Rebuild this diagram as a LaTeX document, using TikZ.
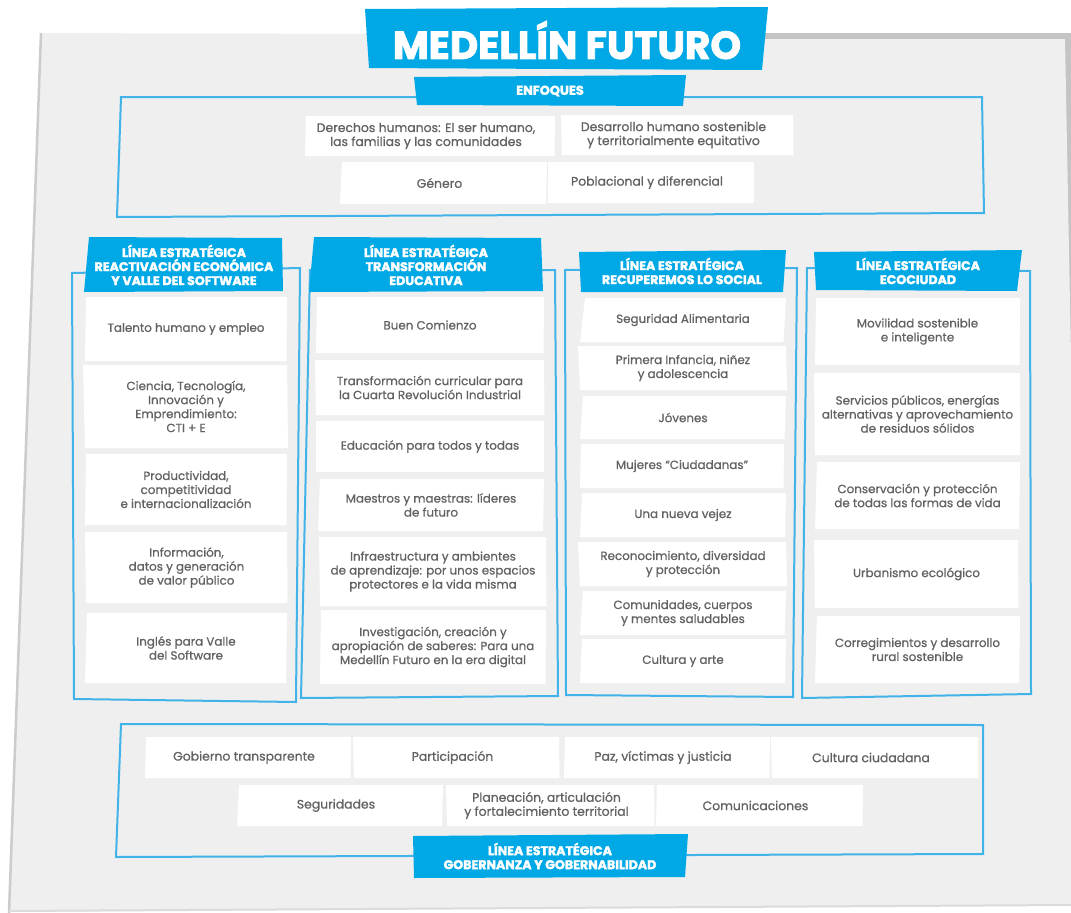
\documentclass[tikz,border=0pt]{standalone}
\usepackage{fontspec}
\setmainfont{Poppins}
\newfontfamily\cardfont[FakeBold=0.8]{Poppins}
\newfontfamily\hdrfont[BoldFeatures={FakeBold=2.2}]{Poppins}
\definecolor{sheet}{HTML}{EFEFEF}
\definecolor{shadowg}{HTML}{C4C4C4}
\definecolor{edgeg}{HTML}{CCCCCC}
\definecolor{hblue}{HTML}{00A8E5}
\definecolor{fblue}{HTML}{42B3E8}
\definecolor{tgrey}{HTML}{626262}
\tikzset{
  cardtext/.style={align=center, text=tgrey, font=\cardfont\fontsize{11.9}{14}\selectfont, inner sep=0pt},
  widetext/.style={cardtext, font=\cardfont\fontsize{12.4}{14}\selectfont},
  hdrtext/.style={align=center, text=white, font=\hdrfont\bfseries\fontsize{12.6}{14}\selectfont, inner sep=0pt},
  framebox/.style={draw=fblue, line width=2pt},
  hdrfill/.style={fill=hblue},
  cardfill/.style={fill=white},
}
% \card{name}{x1}{y1}{x2}{y2}{skew}{text}
\newcommand{\card}[7]{%
  \fill[cardfill] ({#2+#6},#3) -- (#4,#3) -- ({#4-#6/2},#5) -- (#2,#5) -- cycle;
  \node[cardtext] (#1) at ({(#2+#4)/2},{(#3+#5)/2}) {#7};
}
\newcommand{\wcard}[7]{%
  \fill[cardfill] ({#2+#6},#3) -- (#4,#3) -- ({#4-#6/2},#5) -- (#2,#5) -- cycle;
  \node[widetext] (#1) at ({(#2+#4)/2-4},{(#3+#5)/2}) {#7};
}
\begin{document}
\begin{tikzpicture}[x=1pt,y=-1pt]
\useasboundingbox (0,0) rectangle (1071,913);
% sheet and shadows
\fill[shadowg] (365,33) -- (1071,33) -- (1071,360) -- cycle;
\fill[sheet] (41,33) -- (365,34) -- (765,39) -- (1065,39) -- (1071,357) -- (1071,905) -- (9,912) -- (8,913) -- cycle;
\draw[edgeg, line width=2.5pt] (41,33) -- (9,913);
\draw[edgeg!70, line width=2pt] (9,911) -- (1071,905);

% title
\fill[hblue] (365,9) -- (768,7) -- (762,70) -- (369,68) -- cycle;
\node[text=white, font=\hdrfont\bfseries\fontsize{39}{42}\selectfont, inner sep=0pt] (title) at (567,40) {MEDELLÍN FUTURO};

% enfoques frame
\draw[framebox] (121,97) -- (982,97) -- (984,213) -- (117,217) -- cycle;
\fill[hdrfill] (414,77) -- (686,75) -- (683,106) -- (417,105) -- cycle;
\node[hdrtext, font=\hdrfont\bfseries\fontsize{12.8}{13}\selectfont] (hE) at (550,91) {ENFOQUES};
\wcard{e1}{305}{116}{555}{156}{1}{Derechos humanos: El ser humano,\\las familias y las comunidades}
\wcard{e2}{562}{115}{793}{155}{-1}{Desarrollo humano sostenible\\y territorialmente equitativo}
\wcard{e3}{340}{162}{547}{204}{2}{Género}
\wcard{e4}{548}{162}{754}{203}{0}{Poblacional y diferencial}

% column 1
\draw[framebox] (72,273) -- (300,268) -- (296,702) -- (74,699) -- cycle;
\card{c1a}{85}{297}{287}{361}{1}{Talento humano y empleo}
\card{c1b}{85}{365}{287}{448}{-2}{Ciencia, Tecnología,\\Innovación y\\Emprendimiento:\\CTI + E}
\card{c1c}{85}{454}{287}{525}{1}{Productividad,\\competitividad\\e internacionalización}
\card{c1d}{86}{532}{287}{603}{-1}{Información,\\datos y generación\\de valor público}
\card{c1e}{85}{613}{287}{683}{2}{Inglés para Valle\\del Software}
\fill[hdrfill] (89,237) -- (282,238) -- (283,291) -- (84,292) -- cycle;
\node[hdrtext] (h1) at (184,265) {LÍNEA ESTRATÉGICA\\REACTIVACIÓN ECONÓMICA\\Y VALLE DEL SOFTWARE};

% column 2
\draw[framebox] (310,270) -- (555,270) -- (558,696) -- (301,698) -- cycle;
\card{c2a}{316}{297}{544}{353}{1}{Buen Comienzo}
\card{c2b}{316}{360}{544}{415}{-1}{Transformación curricular para\\la Cuarta Revolución Industrial}
\card{c2c}{316}{421}{544}{472}{0}{Educación para todos y todas}
\card{c2d}{318}{479}{544}{531}{2}{Maestros y maestras: líderes\\de futuro}
\card{c2e}{320}{537}{546}{606}{-1}{Infraestructura y ambientes\\de aprendizaje: por unos espacios\\protectores e la vida misma}
\card{c2f}{320}{610}{546}{684}{1}{Investigación, creación y\\apropiación de saberes: Para una\\Medellín Futuro en la era digital}
\fill[hdrfill] (314,237) -- (541,238) -- (543,291) -- (309,292) -- cycle;
\node[hdrtext] (h2) at (426,265) {LÍNEA ESTRATÉGICA\\TRANSFORMACIÓN\\EDUCATIVA};

% column 3
\draw[framebox] (565,270) -- (797,268) -- (793,697) -- (566,695) -- cycle;
\card{c3a}{580}{298}{786}{342}{5}{Seguridad Alimentaria}
\card{c3b}{580}{346}{786}{390}{-2}{Primera Infancia, niñez\\y adolescencia}
\card{c3c}{580}{396}{786}{439}{3}{Jóvenes}
\card{c3d}{580}{444}{784}{488}{1}{Mujeres “Ciudadanas”}
\card{c3e}{580}{493}{786}{537}{2}{Una nueva vejez}
\card{c3f}{580}{542}{786}{586}{-2}{Reconocimiento, diversidad\\y protección}
\card{c3g}{580}{591}{786}{635}{3}{Comunidades, cuerpos\\y mentes saludables}
\card{c3h}{580}{639}{786}{683}{2}{Cultura y arte}
\fill[hdrfill] (579,252) -- (786,250) -- (783,292) -- (581,292) -- cycle;
\node[hdrtext] (h3) at (682,271) {LÍNEA ESTRATÉGICA\\RECUPEREMOS LO SOCIAL};

% column 4
\draw[framebox] (807,268) -- (1030,271) -- (1031,694) -- (802,698) -- cycle;
\card{c4a}{815}{298}{1020}{365}{1}{Movilidad sostenible\\e inteligente}
\card{c4b}{815}{373}{1020}{455}{-1}{Servicios públicos, energías\\alternativas y aprovechamiento\\de residuos sólidos}
\card{c4c}{815}{462}{1020}{529}{2}{Conservación y protección\\de todas las formas de vida}
\card{c4d}{815}{540}{1018}{608}{-1}{Urbanismo ecológico}
\card{c4e}{815}{616}{1020}{683}{2}{Corregimientos y desarrollo\\rural sostenible}
\fill[hdrfill] (814,252) -- (1022,250) -- (1017,291) -- (816,290) -- cycle;
\node[hdrtext] (h4) at (918,271) {LÍNEA ESTRATÉGICA\\ECOCIUDAD};

% gobernanza
\draw[framebox] (121,724) -- (983,725) -- (983,854) -- (116,857) -- cycle;
\wcard{g1}{145}{737}{351}{778}{1}{Gobierno transparente}
\wcard{g2}{354}{737}{559}{778}{-1}{Participación}
\wcard{g3}{564}{737}{770}{778}{1}{Paz, víctimas y justicia}
\wcard{g4}{772}{737}{978}{778}{-1}{Cultura ciudadana}
\wcard{g5}{237}{785}{443}{826}{2}{Seguridades}
\wcard{g6}{447}{785}{654}{826}{-1}{Planeación, articulación\\y fortalecimiento territorial}
\wcard{g7}{656}{785}{863}{826}{1}{Comunicaciones}
\fill[hdrfill] (413,836) -- (688,834) -- (685,877) -- (414,878) -- cycle;
\node[hdrtext] (hG) at (550,856) {LÍNEA ESTRATÉGICA\\GOBERNANZA Y GOBERNABILIDAD};
\end{tikzpicture}
\end{document}
